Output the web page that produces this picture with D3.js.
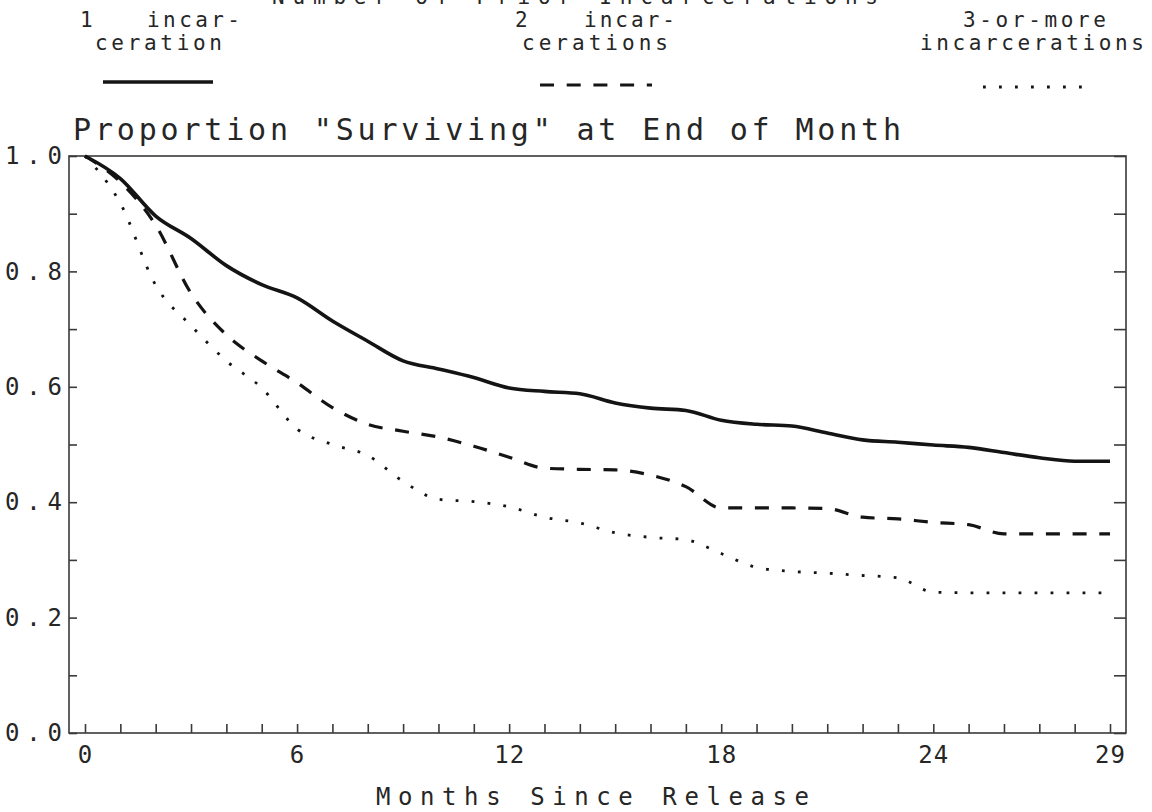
<!DOCTYPE html>
<html>
<head>
<meta charset="utf-8">
<script src="https://cdn.jsdelivr.net/npm/d3@7"></script>
<style>
  html, body { margin: 0; padding: 0; background: #fff; }
  svg { display: block; }
  text { font-family: "DejaVu Sans Mono", "Liberation Mono", monospace; font-weight: normal; fill: #262626; }
</style>
</head>
<body>
<svg id="chart" width="1152" height="812"></svg>
<script>
// ---- data ----
const months = d3.range(0, 30);
const oneIncarceration = [1.000, 0.961, 0.896, 0.857, 0.810, 0.777, 0.754, 0.714, 0.679, 0.645,
  0.631, 0.616, 0.598, 0.592, 0.588, 0.572, 0.563, 0.559, 0.542, 0.535,
  0.532, 0.520, 0.508, 0.504, 0.499, 0.495, 0.486, 0.477, 0.471, 0.471];
const twoIncarcerations = [1.000, 0.955, 0.880, 0.762, 0.690, 0.645, 0.607, 0.564, 0.535, 0.523,
  0.513, 0.497, 0.478, 0.459, 0.457, 0.456, 0.447, 0.427, 0.390, 0.390,
  0.390, 0.389, 0.374, 0.371, 0.365, 0.361, 0.345, 0.345, 0.345, 0.345];
const threeOrMore = [1.000, 0.918, 0.776, 0.706, 0.645, 0.598, 0.527, 0.500, 0.481, 0.436,
  0.405, 0.401, 0.392, 0.374, 0.364, 0.347, 0.339, 0.335, 0.311, 0.287,
  0.280, 0.277, 0.273, 0.269, 0.244, 0.243, 0.243, 0.243, 0.243, 0.243];
const xTickLabels = [0, 6, 12, 18, 24, 29];
const yTickLabels = [0, 0.2, 0.4, 0.6, 0.8, 1.0];
const yMinorTicks = d3.range(0, 11).map(d => d / 10);
const legendLabels = [["1", "incar-", "ceration"], ["2", "incar-", "cerations"], ["", "3-or-more", "incarcerations"]];
const chartTitle = 'Proportion "Surviving" at End of Month';
const topTitle = "Number of Prior Incarcerations";
const xTitle = "Months Since Release";

// ---- layout ----
const svg = d3.select("#chart");
const frame = { left: 69, right: 1126, top: 156, bottom: 733 };
const x = d3.scaleLinear().domain([0, 29]).range([85, 1110]);
const y = d3.scaleLinear().domain([0, 1]).range([frame.bottom, frame.top]);

const ink = "#141414";
const axisInk = "#3a3a3a";
const mono = '"DejaVu Sans Mono", "Liberation Mono", monospace';

// clipped title at the very top (the scan cut it off)
svg.append("text").attr("x", 272).attr("y", 4).attr("font-size", 21)
  .attr("textLength", 606).attr("lengthAdjust", "spacing").text(topTitle);

// frame
svg.append("rect").attr("x", frame.left).attr("y", frame.top)
  .attr("width", frame.right - frame.left).attr("height", frame.bottom - frame.top)
  .attr("fill", "none").attr("stroke", axisInk).attr("stroke-width", 1.6);

// bottom axis
const xAxis = d3.axisBottom(x).tickValues(months).tickSize(-9).tickPadding(13)
  .tickFormat(d => xTickLabels.includes(d) ? d : "");
const gx = svg.append("g").attr("transform", `translate(0,${frame.bottom})`).call(xAxis);
gx.select(".domain").remove();
gx.selectAll("line").attr("stroke", axisInk).attr("stroke-width", 1.6);
gx.selectAll("text").attr("font-size", 24).attr("font-family", mono)
  .style("letter-spacing", "1px").attr("fill", "#262626");

// left axis
const yAxisL = d3.axisLeft(y).tickValues(yMinorTicks).tickSize(-8).tickPadding(7)
  .tickFormat(d => yTickLabels.some(v => Math.abs(v - d) < 1e-9) ? d3.format(".1f")(d) : "");
const gyl = svg.append("g").attr("transform", `translate(${frame.left},0)`).call(yAxisL);
gyl.select(".domain").remove();
gyl.selectAll("line").attr("stroke", axisInk).attr("stroke-width", 1.6);
gyl.selectAll("text").attr("font-size", 24).attr("font-family", mono)
  .attr("fill", "#262626")
  .each(function() { if (d3.select(this).text() !== "") d3.select(this).attr("textLength", 57).attr("lengthAdjust", "spacing"); });

// right axis (ticks only)
const yAxisR = d3.axisRight(y).tickValues(yMinorTicks).tickSize(-12).tickFormat("");
const gyr = svg.append("g").attr("transform", `translate(${frame.right},0)`).call(yAxisR);
gyr.select(".domain").remove();
gyr.selectAll("line").attr("stroke", axisInk).attr("stroke-width", 1.6);

// series
const line = d3.line().x((d, i) => x(months[i])).y(d => y(d)).curve(d3.curveMonotoneX);
const series = [
  { values: oneIncarceration, width: 3.6, dash: null },
  { values: twoIncarcerations, width: 3.2, dash: "14,12.7" },
  { values: threeOrMore, width: 2.8, dash: "2.8,13.2" }
];
series.forEach(s => {
  svg.append("path").datum(s.values).attr("d", line)
    .attr("fill", "none").attr("stroke", ink).attr("stroke-width", s.width)
    .attr("stroke-dasharray", s.dash).attr("stroke-linecap", "butt");
});

// legend
const legendPos = [
  { n: [80, 27], a: [147, 27, 93], b: [95, 50, 127], line: [103, 213, 82] },
  { n: [515, 27], a: [584, 27, 91], b: [522, 50, 146], line: [540, 652, 85] },
  { n: null, a: [963, 27, 143], b: [920, 50, 224], line: [983, 1085, 87] }
];
legendLabels.forEach((lab, i) => {
  const p = legendPos[i];
  if (p.n) svg.append("text").attr("x", p.n[0]).attr("y", p.n[1]).attr("font-size", 21).text(lab[0]);
  svg.append("text").attr("x", p.a[0]).attr("y", p.a[1]).attr("font-size", 21)
    .attr("textLength", p.a[2]).attr("lengthAdjust", "spacing").text(lab[1]);
  svg.append("text").attr("x", p.b[0]).attr("y", p.b[1]).attr("font-size", 21)
    .attr("textLength", p.b[2]).attr("lengthAdjust", "spacing").text(lab[2]);
  const s = series[i];
  svg.append("line").attr("x1", p.line[0]).attr("x2", p.line[1]).attr("y1", p.line[2]).attr("y2", p.line[2])
    .attr("stroke", ink).attr("stroke-width", s.width).attr("stroke-dasharray", s.dash);
});

// chart title
svg.append("text").attr("x", 73).attr("y", 140).attr("font-size", 30)
  .attr("textLength", 828).attr("lengthAdjust", "spacing").text(chartTitle);

// x axis title
svg.append("text").attr("x", 376).attr("y", 805).attr("font-size", 24)
  .attr("textLength", 433).attr("lengthAdjust", "spacing").text(xTitle);
</script>
</body>
</html>
